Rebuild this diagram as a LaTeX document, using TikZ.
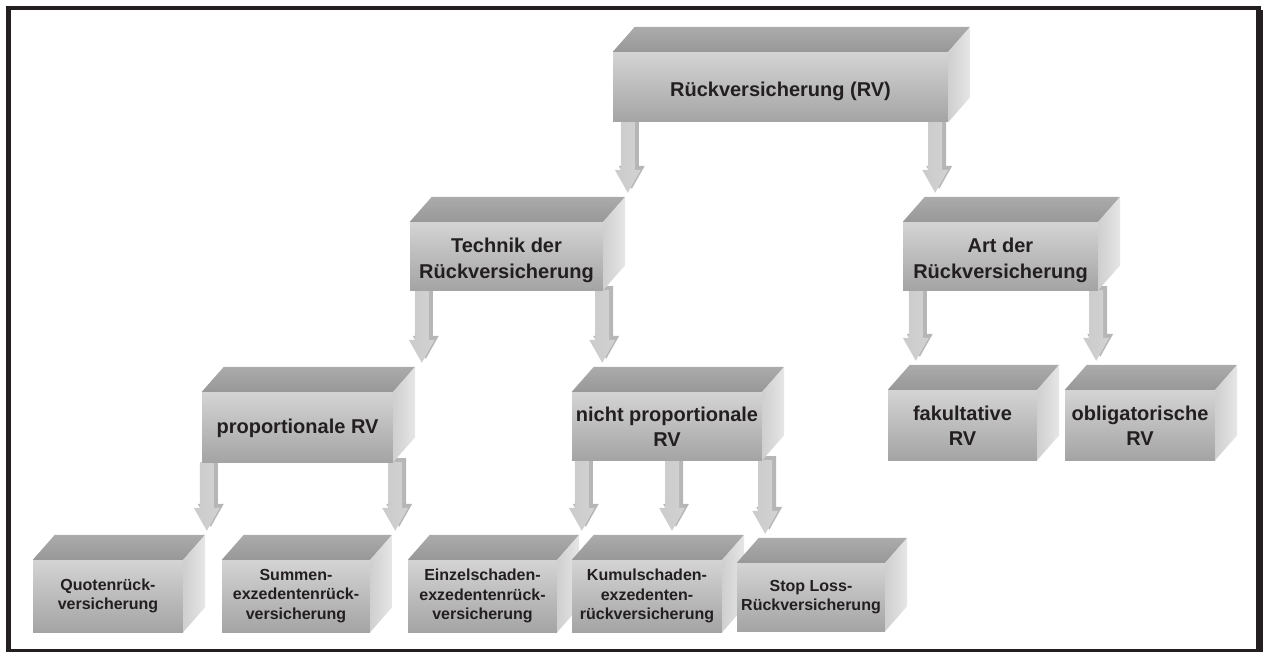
\documentclass[tikz,border=0pt]{standalone}
\usepackage{fontspec}
\setmainfont{Liberation Sans}
\usetikzlibrary{calc}

\definecolor{ink}{HTML}{231F20}
\definecolor{frontA}{HTML}{D4D4D4}
\definecolor{frontB}{HTML}{E8E8E8}
\definecolor{frontC}{HTML}{A4A4A4}
\definecolor{topA}{HTML}{ABABAB}
\definecolor{topB}{HTML}{989898}
\definecolor{sideA}{HTML}{CFCFCF}
\definecolor{sideB}{HTML}{E6E6E6}
\definecolor{arrA}{HTML}{CBCBCB}
\definecolor{arrB}{HTML}{ECECEC}
\definecolor{arrC}{HTML}{D2D2D2}
\definecolor{arrSide}{HTML}{B6B6B6}

\pgfdeclarelayer{background}
\pgfsetlayers{background,main}

\tikzset{
  front/.style={inner sep=0pt, top color=frontA, middle color=frontB, bottom color=frontC},
  label text/.style={inner sep=0pt, align=center, text=ink},
  lvltop/.style={label text, font=\bfseries\fontsize{20}{26}\selectfont, yshift=-4pt},
  lvlbig/.style={label text, font=\bfseries\fontsize{20}{25}\selectfont, yshift=-1pt},
  lvlsmall/.style={label text, font=\bfseries\fontsize{16}{19.5}\selectfont},
  topface/.style={top color=topA, bottom color=topB},
  sideface/.style={left color=sideA, right color=sideB},
  arrowfront/.style={left color=arrA, middle color=arrB, right color=arrC},
  arrowside/.style={fill=arrSide},
}

% 3D block: front face as a node, top and side faces drawn from its anchors
% #1 name, #2 centre, #3 width, #4 height, #5 text style, #6 text
\newcommand\rvbox[6]{%
  \node[front,minimum width=#3pt,minimum height=#4pt] (#1) at #2 {};
  \shade[topface] (#1.north west) -- ++(22,-25) -- ($(#1.north east)+(22,-25)$)
    -- (#1.north east) -- cycle;
  \shade[sideface] (#1.north east) -- ++(22,-25) -- ($(#1.south east)+(22,-25)$)
    -- (#1.south east) -- cycle;
  \node[#5] (#1-text) at (#1.center) {#6};
}

% 3D block arrow from shaft top #1 to tip #2
\newcommand\rvarrow[2]{%
  \fill[arrowside] let \p1=(#1), \p2=(#2) in
    (\x1-3pt,\y1+4pt) -- (\x1+11pt,\y1+4pt) -- (\x1+11pt,\y2+27pt)
    -- (\x1+17pt,\y2+27pt) -- (\x1+4pt,\y2+4pt) -- (\x1-9pt,\y2+27pt)
    -- (\x1-3pt,\y2+27pt) -- cycle;
  \shade[arrowfront] let \p1=(#1), \p2=(#2) in
    (\x1-7pt,\y1) -- (\x1+7pt,\y1) -- (\x1+7pt,\y2+23pt)
    -- (\x1+13pt,\y2+23pt) -- (\x1,\y2) -- (\x1-13pt,\y2+23pt)
    -- (\x1-7pt,\y2+23pt) -- cycle;
}

% connector: from an anchor of the parent (shifted by #2) down towards child #3
\newcommand\link[3]{%
  \path ($(#1)+(#2,0)$) coordinate (s) (s |- #3.north) ++(0,-29) coordinate (t);
  \rvarrow{s}{t}%
}

\begin{document}
\begin{tikzpicture}[x=1pt,y=-1pt]
\useasboundingbox (0,0) rectangle (1263,652);

% level 1
\rvbox{rv}{(780.5,87)}{335}{70}{lvltop}{Rückversicherung (RV)}
% level 2
\rvbox{tech}{(506.5,256)}{193}{68}{lvltop}{Technik der\\Rückversicherung}
\rvbox{art}{(1000.5,256)}{195}{68}{lvltop}{Art der\\Rückversicherung}
% level 3
\rvbox{prop}{(297.5,427)}{191}{70}{lvlbig}{proportionale RV}
\rvbox{nprop}{(667,426)}{190}{68}{lvlbig}{nicht proportionale\\RV}
\rvbox{fak}{(962.5,425)}{149}{70}{lvlbig}{fakultative\\RV}
\rvbox{obl}{(1140,425)}{150}{70}{lvlbig}{obligatorische\\RV}
% level 4
\rvbox{quot}{(108,596)}{150}{72}{lvlsmall}{Quotenrück-\\versicherung}
\rvbox{summ}{(296,596)}{148}{72}{lvlsmall}{Summen-\\exzedentenrück-\\versicherung}
\rvbox{einz}{(482.5,596)}{149}{72}{lvlsmall}{Einzelschaden-\\exzedentenrück-\\versicherung}
\rvbox{kum}{(647,596)}{150}{72}{lvlsmall}{Kumulschaden-\\exzedenten-\\rückversicherung}
\rvbox{stop}{(811,597)}{148}{68}{lvlsmall}{Stop Loss-\\Rückversicherung}

% connectors behind the blocks
\begin{pgfonlayer}{background}
\link{rv.south west}{15}{tech}
\link{rv.south east}{-13}{art}
\link{tech.south west}{12}{prop}
\link{tech.south east}{-1}{nprop}
\link{art.south west}{13}{fak}
\link{art.south east}{-2}{obl}
\link{prop.south west}{5}{quot}
\link{prop.south east}{2}{summ}
\link{nprop.south west}{10}{einz}
\link{nprop.south}{5}{kum}
\link{nprop.south east}{3}{stop}
\end{pgfonlayer}

% frame
\fill[ink] (6,6) rectangle (11,652);
\fill[ink] (6,6) rectangle (1261,10);
\fill[ink] (1256,10) rectangle (1263,652);
\fill[ink] (6,649) rectangle (1263,652);
\end{tikzpicture}
\end{document}
